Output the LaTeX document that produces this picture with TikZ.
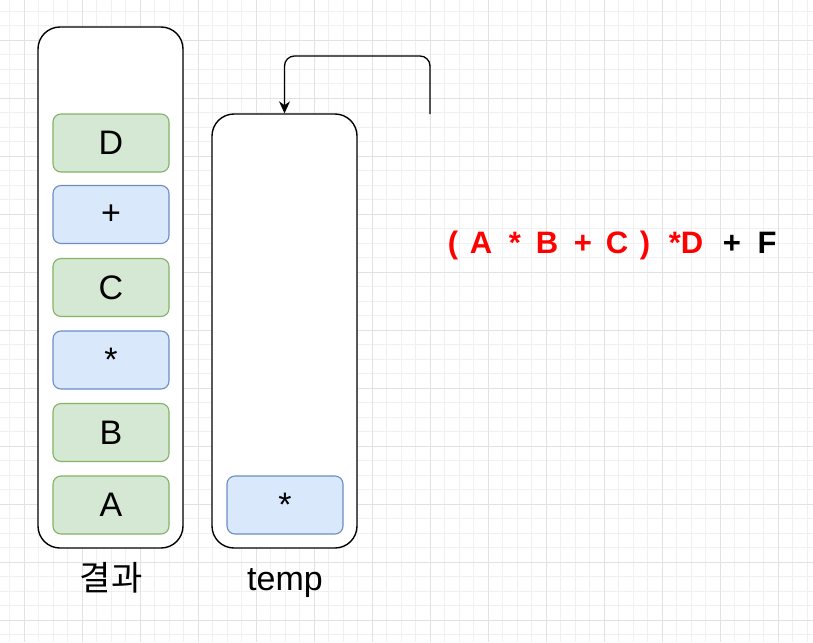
\documentclass[tikz,border=0pt]{standalone}
\usepackage{fontspec}
\setmainfont{Liberation Sans}
\newfontfamily\krfont{Noto Sans CJK KR}
\usetikzlibrary{arrows.meta}
\definecolor{gfill}{HTML}{D5E8D4}
\definecolor{gdraw}{HTML}{82B366}
\definecolor{bfill}{HTML}{DAE8FC}
\definecolor{bdraw}{HTML}{6C8EBF}
\definecolor{gridminor}{HTML}{F0F0F0}
\definecolor{gridmajor}{HTML}{E2E2E2}
\definecolor{exred}{HTML}{FF0000}
\tikzset{
  bigbox/.style={draw=black, line width=1.4pt, rounded corners=22pt, fill=white, minimum width=145pt, inner sep=0pt},
  itembox/.style={line width=1.1pt, rounded corners=8pt, minimum width=116pt, minimum height=58pt, inner sep=0pt, font=\fontsize{34}{40}\selectfont},
  gitem/.style={itembox, draw=gdraw, fill=gfill},
  bitem/.style={itembox, draw=bdraw, fill=bfill},
  caption/.style={font=\fontsize{34}{40}\selectfont, anchor=base, inner sep=0pt},
  tok/.style={font=\bfseries\fontsize{31}{36}\selectfont, anchor=base, inner sep=0pt, text=exred},
  tokb/.style={tok, text=black},
  minorline/.style={draw=gridminor, line width=0.8pt},
  majorline/.style={draw=gridmajor, line width=0.9pt},
  flow/.style={draw=black, line width=1.3pt, rounded corners=10pt, -{Stealth[length=12pt,width=11pt]}}
}
\begin{document}
\begin{tikzpicture}[x=1pt,y=-1pt]
\useasboundingbox (0,0) rectangle (813,642);
\fill[white] (0,0) rectangle (813,642);
% grid
\foreach \i in {0,...,55} {\draw[minorline] ({9.5+14.5*\i},0) -- ({9.5+14.5*\i},642);}
\foreach \i in {0,...,43} {\draw[minorline] (0,{11+14.5*\i}) -- (813,{11+14.5*\i});}
\foreach \i in {0,...,13} {\draw[majorline] ({24+58*\i},0) -- ({24+58*\i},642);}
\foreach \i in {0,...,10} {\draw[majorline] (0,{40+58*\i}) -- (813,{40+58*\i});}
% result stack
\node[bigbox, minimum height=521pt] (res) at (110.5,287.5) {};
\node[gitem] (iD) at (111,143) {D};
\node[bitem] (iplus) at (111,214.5) {+};
\node[gitem] (iC) at (111,287.5) {C};
\node[bitem] (istar) at (111,360) {*};
\node[gitem] (iB) at (111,432.5) {B};
\node[gitem] (iA) at (111,505) {A};
% temp stack
\node[bigbox, minimum height=434pt] (temp) at (284.5,331) {};
\node[bitem] (tstar) at (285,505) {*};
% captions
\node[caption] (capres) at (111,590) {\krfont 결과};
\node[caption] (captemp) at (285,590) {temp};
% expression
\node[tok] (e1) at (453,253) {(};
\node[tok] (e2) at (481,253) {A};
\node[tok] (e3) at (515,253) {*};
\node[tok] (e4) at (547,253) {B};
\node[tok] (e5) at (583,253) {+};
\node[tok] (e6) at (617,253) {C};
\node[tok] (e7) at (645,253) {)};
\node[tok] (e8) at (686,253) {*D};
\node[tokb] (e9) at (732,253) {+};
\node[tokb] (e10) at (767,253) {F};
% arrow
\coordinate (src) at (430,114);
\draw[flow] (src) -- (430,56) -- (temp.north |- 0,56) -- (temp.north);
\end{tikzpicture}
\end{document}
